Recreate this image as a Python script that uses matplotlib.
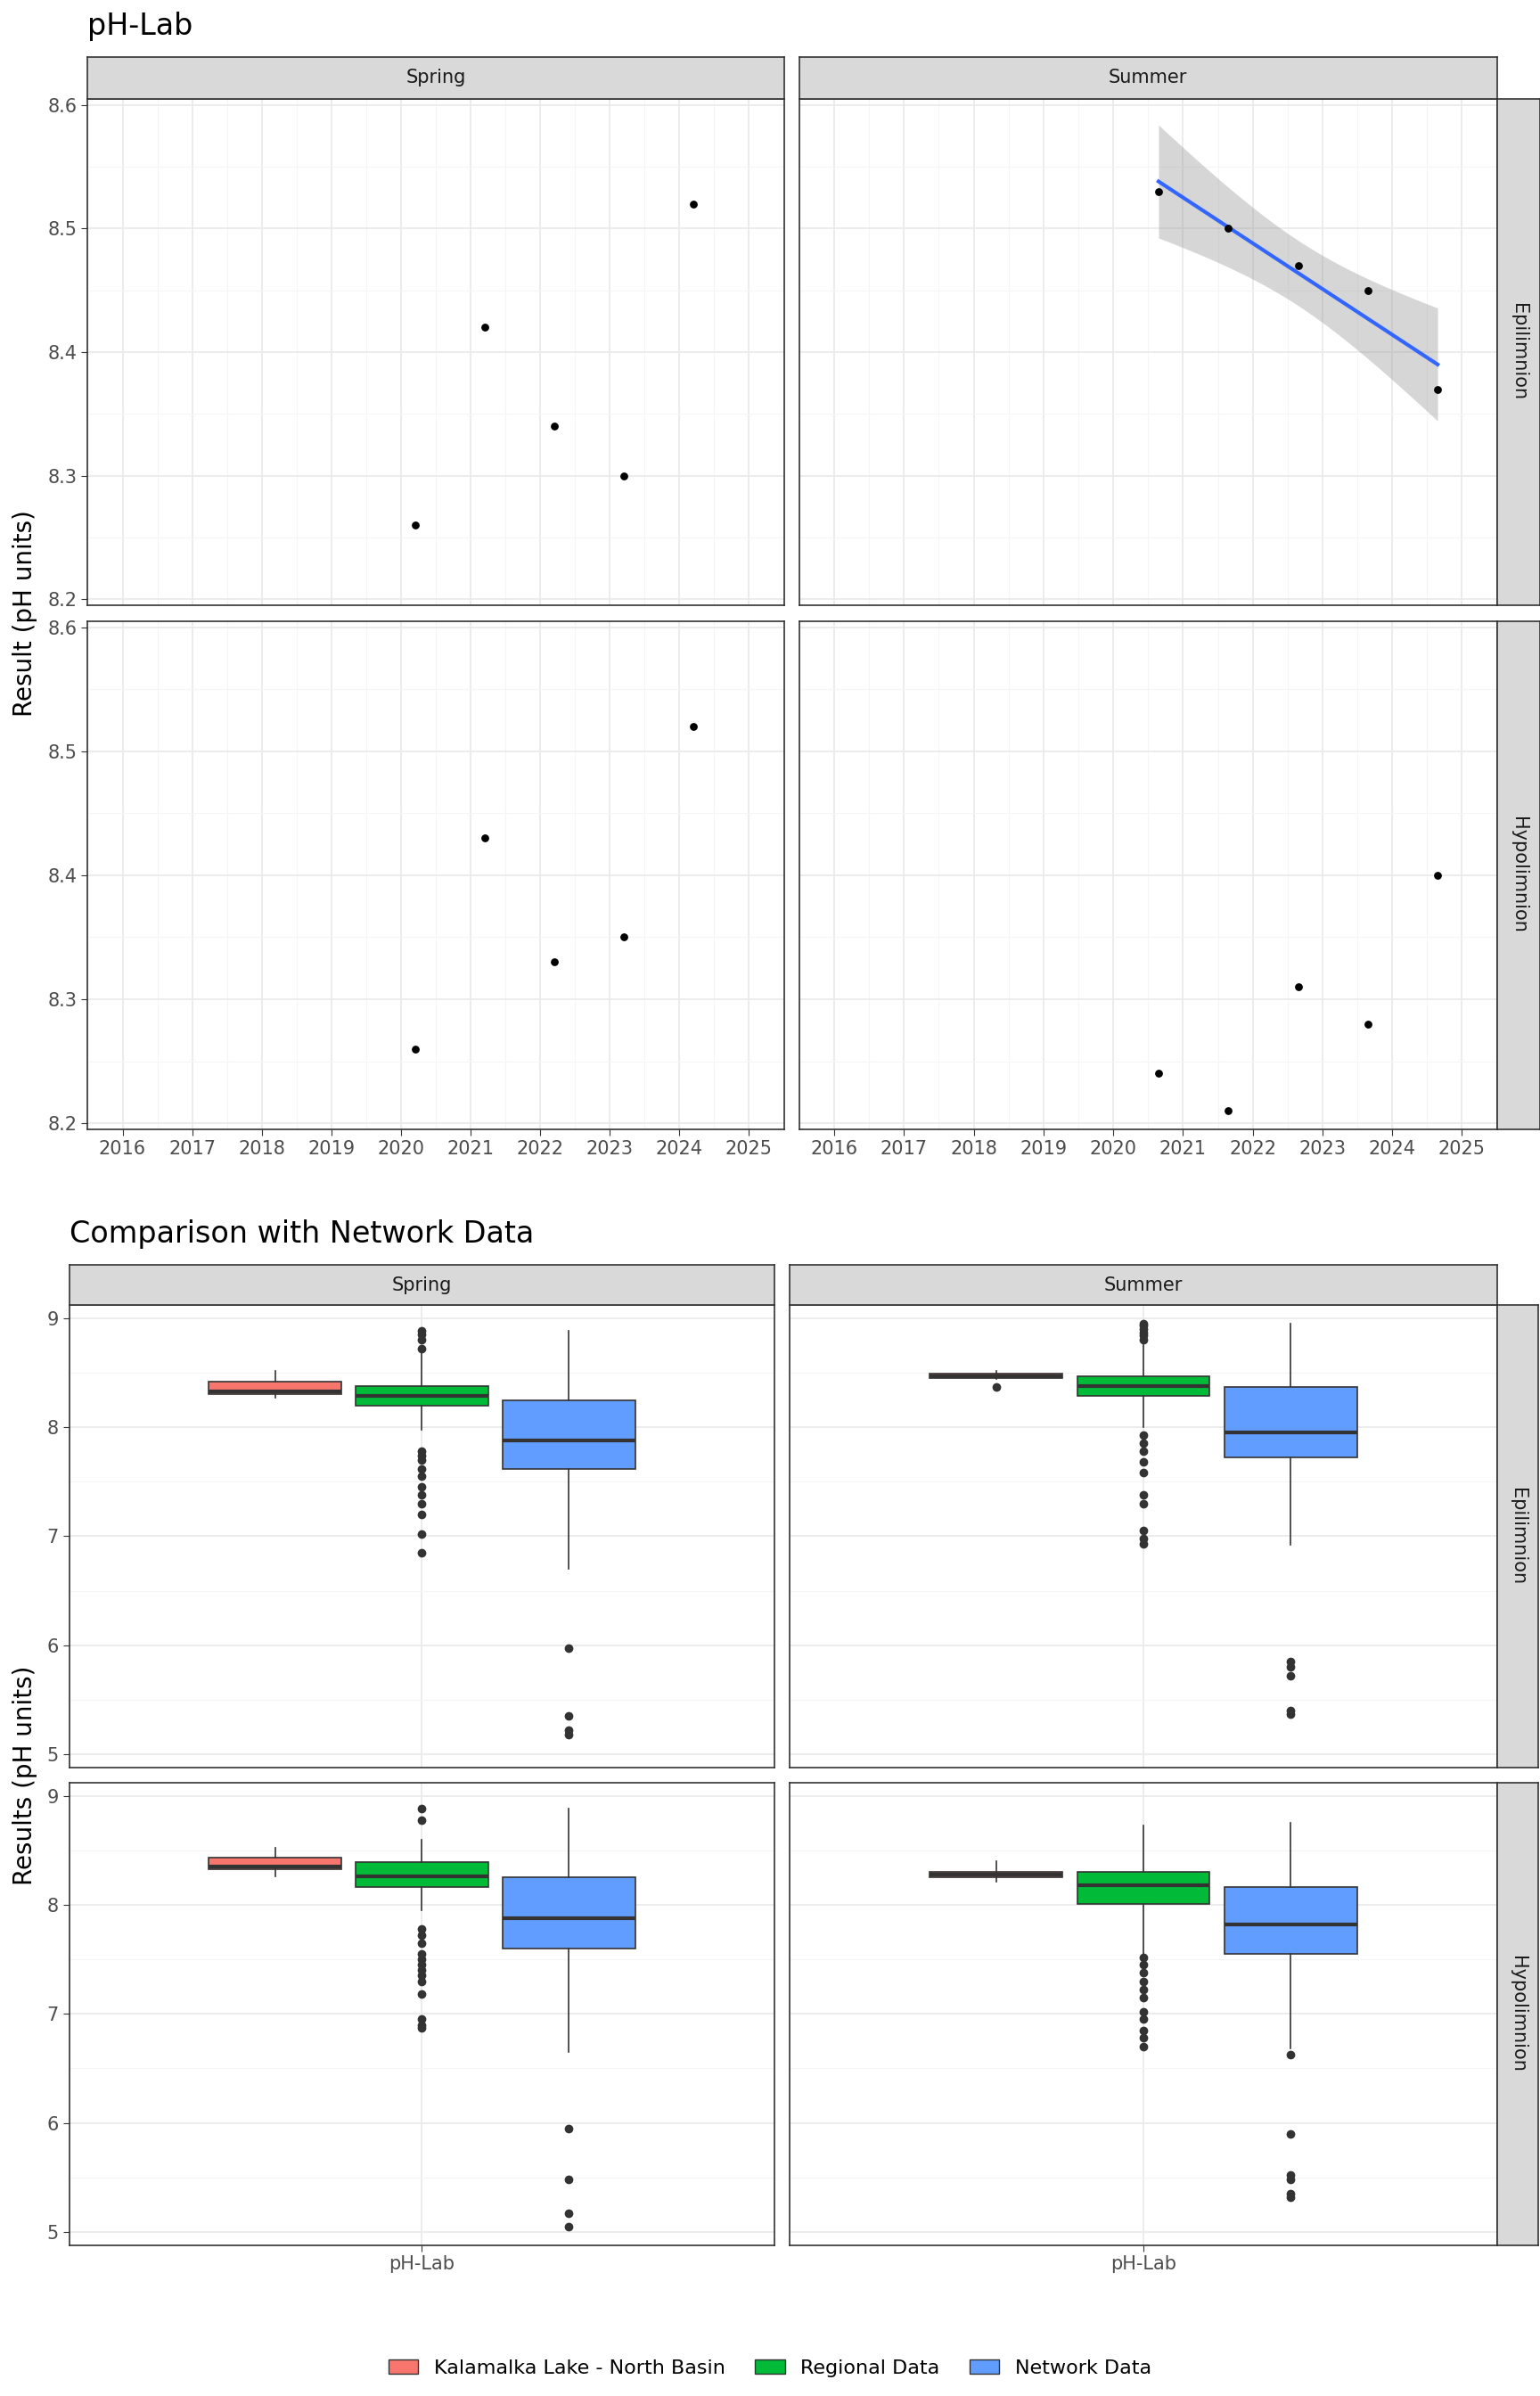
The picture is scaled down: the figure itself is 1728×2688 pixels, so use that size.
import matplotlib.pyplot as plt
import numpy as np
from matplotlib.patches import Patch

# ---- data: time series (pH-Lab) ----
years_spring = [2020.2, 2021.2, 2022.2, 2023.2, 2024.2]
years_summer = [2020.65, 2021.65, 2022.65, 2023.65, 2024.65]
ph_spring_epi = [8.26, 8.42, 8.34, 8.30, 8.52]
ph_spring_hypo = [8.26, 8.43, 8.33, 8.35, 8.52]
ph_summer_epi = [8.53, 8.50, 8.47, 8.45, 8.37]
ph_summer_hypo = [8.24, 8.21, 8.31, 8.28, 8.40]
year_ticks = list(range(2016, 2026))

# ---- data: box stats per group (q1, med, q3, whislo, whishi, fliers) ----
groups = ["Kalamalka Lake - North Basin", "Regional Data", "Network Data"]
colors = ["#F8766D", "#00BA38", "#619CFF"]
box_spring_epi = [
    (8.30, 8.33, 8.42, 8.27, 8.52, []),
    (8.20, 8.29, 8.38, 7.98, 8.68, [8.88, 8.85, 8.80, 8.72, 7.78, 7.74, 7.70, 7.62, 7.55, 7.45, 7.38, 7.30, 7.20, 7.02, 6.85]),
    (7.62, 7.88, 8.25, 6.70, 8.88, [5.97, 5.35, 5.22, 5.18]),
]
box_summer_epi = [
    (8.45, 8.47, 8.49, 8.44, 8.52, [8.37]),
    (8.29, 8.38, 8.47, 8.00, 8.75, [8.95, 8.93, 8.90, 8.87, 8.84, 8.80, 7.93, 7.85, 7.78, 7.68, 7.58, 7.38, 7.30, 7.05, 6.98, 6.93]),
    (7.72, 7.95, 8.37, 6.92, 8.95, [5.85, 5.80, 5.72, 5.40, 5.37]),
]
box_spring_hypo = [
    (8.33, 8.35, 8.43, 8.26, 8.52, []),
    (8.16, 8.26, 8.39, 7.95, 8.60, [8.88, 8.78, 7.78, 7.72, 7.65, 7.55, 7.50, 7.45, 7.40, 7.35, 7.30, 7.18, 6.95, 6.90, 6.87]),
    (7.60, 7.88, 8.25, 6.65, 8.88, [5.95, 5.48, 5.17, 5.05]),
]
box_summer_hypo = [
    (8.25, 8.28, 8.30, 8.21, 8.40, []),
    (8.01, 8.18, 8.30, 7.55, 8.73, [7.52, 7.45, 7.38, 7.30, 7.22, 7.15, 7.02, 6.95, 6.85, 6.78, 6.70]),
    (7.55, 7.82, 8.16, 6.68, 8.75, [6.63, 5.90, 5.52, 5.48, 5.35, 5.32]),
]

W, H = 1000, 1555
fig = plt.figure(figsize=(17.28, 26.88), dpi=100)


def frac(x0, y0, x1, y1):
    return [x0 / W, 1 - y1 / H, (x1 - x0) / W, (y1 - y0) / H]


def style(ax):
    ax.set_facecolor("white")
    for s in ax.spines.values():
        s.set_color("#333333")
        s.set_linewidth(1.2)
    ax.tick_params(colors="#333333", labelcolor="#4D4D4D", labelsize=15, length=5)
    ax.set_axisbelow(True)
    ax.grid(True, which="major", color="#EBEBEB", lw=1.3)
    ax.grid(True, which="minor", color="#F5F5F5", lw=0.8)


def strip(box, text, rot=0):
    ax = fig.add_axes(frac(*box))
    ax.set_facecolor("#D9D9D9")
    ax.set_xticks([]); ax.set_yticks([])
    for s in ax.spines.values():
        s.set_color("#333333"); s.set_linewidth(1.2)
    ax.text(0.5, 0.5, text, rotation=rot, ha="center", va="center",
            fontsize=15, color="#1A1A1A", transform=ax.transAxes)


# ---- top section ----
fig.text(57 / W, 1 - 17 / H, "pH-Lab", fontsize=24, va="center")
cols = [(57, 509), (519, 972)]
rows = [(64, 393), (403, 733)]
series = [[(years_spring, ph_spring_epi), (years_summer, ph_summer_epi)],
          [(years_spring, ph_spring_hypo), (years_summer, ph_summer_hypo)]]
for r, (y0, y1) in enumerate(rows):
    for c, (x0, x1) in enumerate(cols):
        ax = fig.add_axes(frac(x0, y0, x1, y1))
        style(ax)
        xs, ys = series[r][c]
        if r == 0 and c == 1:
            xa, ya = np.array(xs), np.array(ys)
            b, a = np.polyfit(xa, ya, 1)
            xg = np.linspace(xa.min(), xa.max(), 80)
            yg = a + b * xg
            n = len(xa)
            res = ya - (a + b * xa)
            s = np.sqrt(np.sum(res ** 2) / (n - 2))
            se = s * np.sqrt(1 / n + (xg - xa.mean()) ** 2 / np.sum((xa - xa.mean()) ** 2))
            t = 3.182
            ax.fill_between(xg, yg - t * se, yg + t * se, color="#999999", alpha=0.4, lw=0)
            ax.plot(xg, yg, color="#3366FF", lw=3)
        ax.scatter(xs, ys, color="black", s=28, zorder=3)
        ax.set_xlim(2015.55, 2025.45)
        ax.set_ylim(8.195, 8.605)
        ax.set_xticks(year_ticks)
        ax.set_xticks(np.arange(2015.5, 2025.6, 1), minor=True)
        ax.set_yticks([8.2, 8.3, 8.4, 8.5, 8.6])
        ax.set_yticks([8.25, 8.35, 8.45, 8.55], minor=True)
        ax.tick_params(which="minor", length=0)
        if r == 0:
            ax.set_xticklabels([])
            ax.tick_params(axis="x", length=0)
        if c == 1:
            ax.set_yticklabels([])
            ax.tick_params(axis="y", length=0)
strip((57, 37, 509, 64), "Spring")
strip((519, 37, 972, 64), "Summer")
strip((972, 64, 1000, 393), "Epilimnion", -90)
strip((972, 403, 1000, 733), "Hypolimnion", -90)
fig.text(16 / W, 1 - 398 / H, "Result (pH units)", rotation=90, fontsize=20, ha="center", va="center")

# ---- bottom section ----
fig.text(45 / W, 1 - 801 / H, "Comparison with Network Data", fontsize=24, va="center")
cols = [(45, 503), (513, 972)]
rows = [(847, 1147), (1157, 1457)]
boxes = [[box_spring_epi, box_summer_epi], [box_spring_hypo, box_summer_hypo]]
offsets = [-0.25, 0.0, 0.25]
for r, (y0, y1) in enumerate(rows):
    for c, (x0, x1) in enumerate(cols):
        ax = fig.add_axes(frac(x0, y0, x1, y1))
        style(ax)
        for g, (q1, med, q3, lo, hi, fl) in enumerate(boxes[r][c]):
            st = [dict(q1=q1, med=med, q3=q3, whislo=lo, whishi=hi, fliers=fl)]
            ax.bxp(st, positions=[1 + offsets[g]], widths=0.225, patch_artist=True,
                   showcaps=False,
                   boxprops=dict(facecolor=colors[g], edgecolor="#333333", lw=1.2),
                   medianprops=dict(color="#333333", lw=3),
                   whiskerprops=dict(color="#333333", lw=1.2),
                   flierprops=dict(marker="o", markerfacecolor="#333333",
                                   markeredgecolor="#333333", markersize=6))
        ax.set_xlim(0.4, 1.6)
        ax.set_ylim(4.88, 9.12)
        ax.set_yticks([5, 6, 7, 8, 9])
        ax.set_yticks([5.5, 6.5, 7.5, 8.5], minor=True)
        ax.set_xticks([1])
        ax.set_xticks([], minor=True)
        ax.tick_params(which="minor", length=0)
        ax.set_xticklabels(["pH-Lab"])
        if r == 0:
            ax.set_xticklabels([])
            ax.tick_params(axis="x", length=0)
        if c == 1:
            ax.set_yticklabels([])
            ax.tick_params(axis="y", length=0)
strip((45, 821, 503, 847), "Spring")
strip((513, 821, 972, 847), "Summer")
strip((972, 847, 999, 1147), "Epilimnion", -90)
strip((972, 1157, 999, 1457), "Hypolimnion", -90)
fig.text(16 / W, 1 - 1152 / H, "Results (pH units)", rotation=90, fontsize=20, ha="center", va="center")

handles = [Patch(facecolor=col, edgecolor="#333333", label=g) for g, col in zip(groups, colors)]
fig.legend(handles=handles, loc="center", bbox_to_anchor=(0.5, 1 - 1537 / H), ncol=3,
           frameon=False, fontsize=16, handlelength=1.5, columnspacing=1.5)

fig.savefig("out.png", dpi=100, facecolor="white")
